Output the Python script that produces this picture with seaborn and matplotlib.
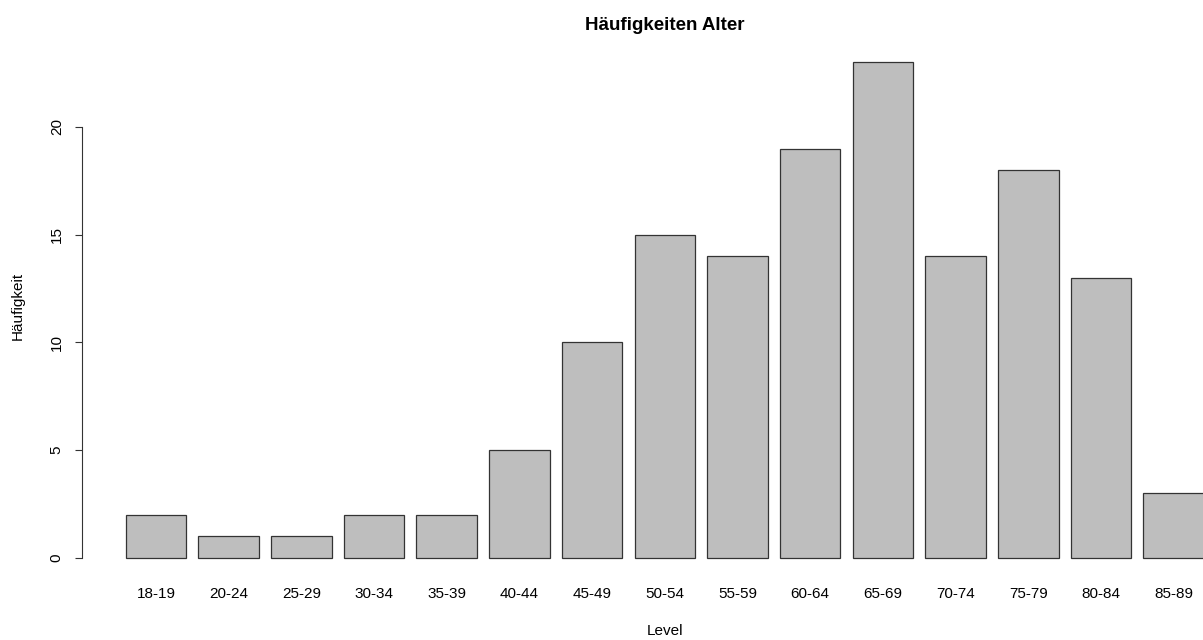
import matplotlib
matplotlib.use("Agg")
import matplotlib.pyplot as plt
import seaborn as sns
import pandas as pd

# Age groups and their counts
age_groups = ["18-19", "20-24", "25-29", "30-34", "35-39", "40-44", "45-49",
              "50-54", "55-59", "60-64", "65-69", "70-74", "75-79", "80-84", "85-89"]
counts = [2, 1, 1, 2, 2, 5, 10, 15, 14, 19, 23, 14, 18, 13, 3]
y_ticks = [0, 5, 10, 15, 20]

df = pd.DataFrame({"Level": age_groups, "Häufigkeit": counts})

sns.set_style("white")
plt.rcParams["font.family"] = ["Liberation Sans", "DejaVu Sans"]
plt.rcParams["text.color"] = "black"
plt.rcParams["xtick.color"] = "black"
plt.rcParams["ytick.color"] = "black"

fig = plt.figure(figsize=(12.03, 6.40), dpi=100)
ax = fig.add_axes([0.06825, 0.0972, 0.9788, 0.8364])

sns.barplot(data=df, x="Level", y="Häufigkeit", order=age_groups,
            color="#bebebe", saturation=1, width=1 / 1.2,
            edgecolor="#333333", linewidth=0.9, ax=ax)

ax.set_xlim(-1.0167, 15.183)
ax.set_ylim(-0.92, 23.92)

for side in ["top", "right", "bottom"]:
    ax.spines[side].set_visible(False)
ax.spines["left"].set_bounds(0, 20)
ax.spines["left"].set_color("#333333")
ax.spines["left"].set_linewidth(0.8)

ax.set_yticks(y_ticks)
ax.set_yticklabels([str(v) for v in y_ticks], rotation=90, va="center")
ax.tick_params(axis="y", direction="out", length=5.2, width=0.8,
               color="#333333", labelcolor="black", pad=8, labelsize=11,
               left=True)
ax.tick_params(axis="x", length=0, pad=6.3, labelsize=11, labelcolor="black")

ax.set_xlabel("")
ax.set_ylabel("")
fig.text(18 / 1203, 1 - 306 / 640, "Häufigkeit", rotation=90,
         ha="center", va="center", fontsize=11, color="black")
fig.text(665 / 1203, 1 - 631 / 640, "Level", ha="center", va="center",
         fontsize=11, color="black")
fig.text(665 / 1203, 1 - 25 / 640, "Häufigkeiten Alter", ha="center",
         va="center", fontsize=13.5, fontweight="bold", color="black")

fig.savefig("out.png", dpi=100)
